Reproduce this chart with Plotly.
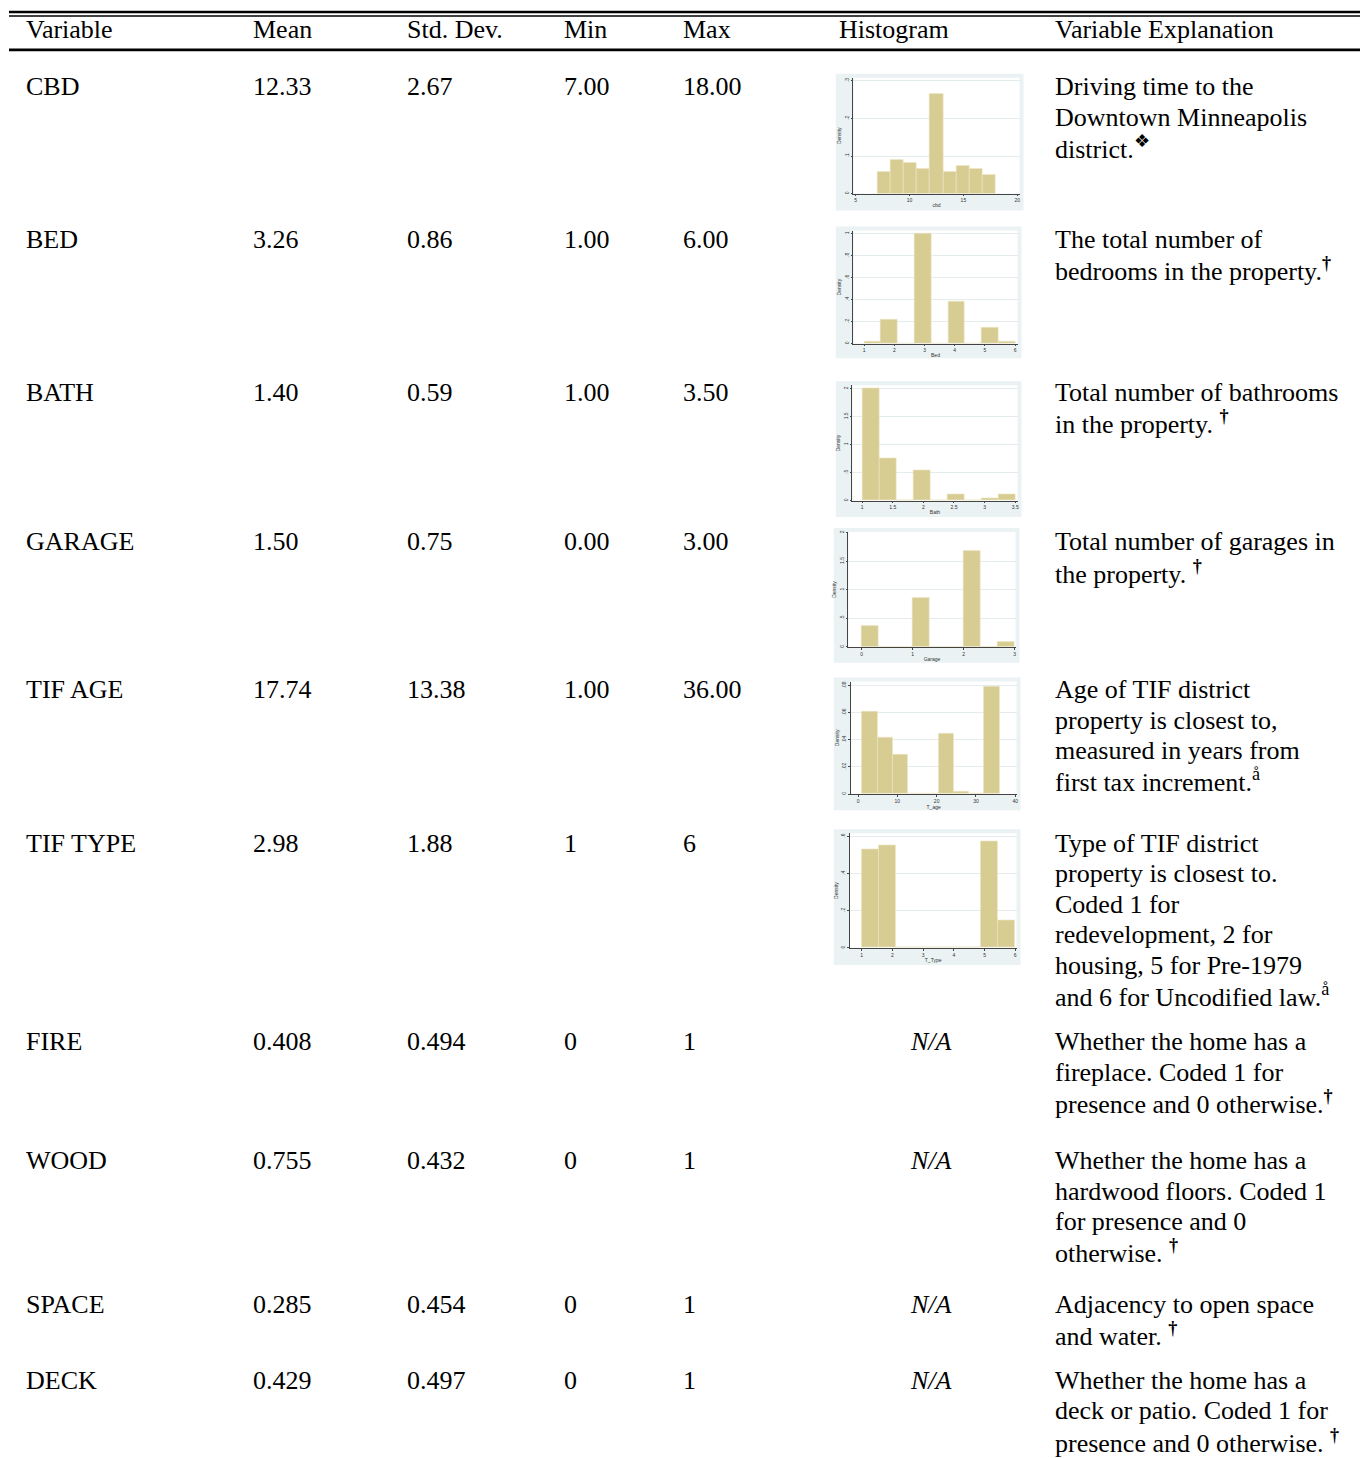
import numpy as np
import plotly.graph_objects as go

W, H = 1368, 1458

# ---------------- data ----------------
headers = ["Variable", "Mean", "Std. Dev.", "Min", "Max", "Histogram", "Variable Explanation"]
variables = ["CBD", "BED", "BATH", "GARAGE", "TIF AGE", "TIF TYPE", "FIRE", "WOOD", "SPACE", "DECK"]
means = ["12.33", "3.26", "1.40", "1.50", "17.74", "2.98", "0.408", "0.755", "0.285", "0.429"]
std_devs = ["2.67", "0.86", "0.59", "0.75", "13.38", "1.88", "0.494", "0.432", "0.454", "0.497"]
mins = ["7.00", "1.00", "1.00", "0.00", "1.00", "1", "0", "0", "0", "0"]
maxs = ["18.00", "6.00", "3.50", "3.00", "36.00", "6", "1", "1", "1", "1"]
DAG = "<sup><b>†</b></sup>"
explanations = [
    ["Driving time to the", "Downtown Minneapolis", "district.<sup>❖</sup>"],
    ["The total number of", "bedrooms in the property." + DAG],
    ["Total number of bathrooms", "in the property. " + DAG],
    ["Total number of garages in", "the property. " + DAG],
    ["Age of TIF district", "property is closest to,", "measured in years from", "first tax increment.<sup>å</sup>"],
    ["Type of TIF district", "property is closest to.", "Coded 1 for", "redevelopment, 2 for",
     "housing, 5 for Pre-1979", "and 6 for Uncodified law.<sup>å</sup>"],
    ["Whether the home has a", "fireplace. Coded 1 for", "presence and 0 otherwise." + DAG],
    ["Whether the home has a", "hardwood floors. Coded 1", "for presence and 0", "otherwise. " + DAG],
    ["Adjacency to open space", "and water. " + DAG],
    ["Whether the home has a", "deck or patio. Coded 1 for", "presence and 0 otherwise. " + DAG],
]

# histogram densities (9 equal bins between the variable's min and max)
cbd_density = [0.058, 0.091, 0.083, 0.066, 0.266, 0.058, 0.075, 0.066, 0.050]
bed_density = [0.021, 0.218, 0.0, 1.0, 0.0, 0.384, 0.0, 0.145, 0.021]
bath_density = [2.0, 0.766, 0.0, 0.552, 0.0, 0.107, 0.0, 0.036, 0.107]
garage_density = [0.366, 0.0, 0.0, 0.855, 0.0, 0.0, 1.674, 0.0, 0.093]
tifage_density = [0.0609, 0.042, 0.029, 0.0, 0.0, 0.0447, 0.002, 0.0, 0.0795]
tiftype_density = [0.532, 0.552, 0.0, 0.0, 0.0, 0.0, 0.0, 0.572, 0.147]

hist_ranges = [(7, 18), (1, 6), (1, 3.5), (0, 3), (1, 36), (1, 6)]
hist_xtitles = ["cbd", "Bed", "Bath", "Garage", "T_age", "T_Type"]
hist_xticks = [[5, 10, 15, 20], [1, 2, 3, 4, 5, 6], [1, 1.5, 2, 2.5, 3, 3.5],
               [0, 1, 2, 3], [0, 10, 20, 30, 40], [1, 2, 3, 4, 5, 6]]
hist_yticks = [[0, 0.1, 0.2, 0.3], [0, 0.2, 0.4, 0.6, 0.8, 1], [0, 0.5, 1, 1.5, 2],
               [0, 0.5, 1, 1.5, 2], [0, 0.02, 0.04, 0.06, 0.08], [0, 0.2, 0.4, 0.6]]
hist_ytick_text = [["0", ".1", ".2", ".3"], ["0", ".2", ".4", ".6", ".8", "1"],
                   ["0", ".5", "1", "1.5", "2"], ["0", ".5", "1", "1.5", "2"],
                   ["0", ".02", ".04", ".06", ".08"], ["0", ".2", ".4", ".6"]]
hist_densities = [cbd_density, bed_density, bath_density, garage_density, tifage_density, tiftype_density]

# ---------------- layout (pixel geometry, in screenshot pixels) ----------------
header_y = 30
row_y = [87, 240, 393, 543, 691, 845, 1044, 1163, 1307, 1383]
col_x = [26, 253, 408, 565, 684, 840, 1057]
na_x = 932
line_gap = 30.5

hist_geom = [
    dict(box=(836, 72, 1024, 209), left=853.7, xcal=(856.0, 1017.7), ycal=(192.0, 79.0)),
    dict(box=(836, 225, 1022, 357), left=853.7, xcal=(864.3, 1015.7), ycal=(342.3, 232.0)),
    dict(box=(836, 380, 1022, 516), left=852.7, xcal=(862.3, 1015.7), ycal=(499.7, 387.3)),
    dict(box=(834, 527, 1020, 662), left=848.7, xcal=(862.0, 1015.0), ycal=(646.3, 531.7)),
    dict(box=(834, 677, 1021, 810), left=851.0, xcal=(858.3, 1015.7), ycal=(793.7, 685.0)),
    dict(box=(834, 829, 1021, 965), left=850.0, xcal=(862.0, 1015.7), ycal=(947.7, 836.0)),
]

OFF_X, OFF_Y = 8, 8          # page margin around the figure
TEXT_DX, TEXT_DY = -1, -2    # small text placement correction
HIST_DX = 1

FONT = "Liberation Serif, Times New Roman, serif"
FS = 26
BAR_COLOR = "#D7CC92"
BG_COLOR = "#EAF2F3"


def px_x(x):
    return (x - OFF_X) / W


def px_y(y):
    return 1 - (y - OFF_Y) / H


fig = go.Figure()
annotations = []
shapes = []
layout_axes = {}


def add_text(x, y, text, anchor="left", italic=False):
    annotations.append(dict(
        x=px_x(x + TEXT_DX), y=px_y(y + TEXT_DY), xref="paper", yref="paper",
        text=f"<i>{text}</i>" if italic else text,
        showarrow=False, xanchor=anchor, yanchor="middle", borderpad=0,
        font=dict(family=FONT, size=FS, color="black"),
    ))


for cx, h in zip(col_x, headers):
    add_text(cx, header_y, h)

for i, var in enumerate(variables):
    y = row_y[i]
    for cx, val in zip(col_x[:5], [var, means[i], std_devs[i], mins[i], maxs[i]]):
        add_text(cx, y, val)
    if i >= len(hist_densities):
        add_text(na_x + 1, y, "N/A", anchor="center", italic=True)
    for j, line in enumerate(explanations[i]):
        add_text(col_x[6], y + j * line_gap, line)

# rules
for y, w in [(10, 2.6), (14, 1.4), (48, 2.6)]:
    shapes.append(dict(type="line", xref="paper", yref="paper",
                       x0=px_x(9), x1=1.02, y0=px_y(y), y1=px_y(y),
                       line=dict(color="black", width=w)))

# histograms
for k, dens in enumerate(hist_densities):
    g = hist_geom[k]
    x0b, y0b, x1b, y1b = g["box"]
    x0b += HIST_DX
    x1b += HIST_DX
    left = g["left"] + HIST_DX
    right = x1b - 4
    top = y0b + 4
    bottom = g["ycal"][0]

    shapes.append(dict(type="rect", xref="paper", yref="paper", layer="below",
                       x0=px_x(x0b), x1=px_x(x1b), y0=px_y(y1b), y1=px_y(y0b),
                       fillcolor=BG_COLOR, line=dict(width=0)))
    shapes.append(dict(type="rect", xref="paper", yref="paper", layer="below",
                       x0=px_x(left), x1=px_x(right), y0=px_y(bottom), y1=px_y(top),
                       fillcolor="white", line=dict(width=0)))

    lo, hi = hist_ranges[k]
    edges = np.linspace(lo, hi, len(dens) + 1)
    centers = (edges[:-1] + edges[1:]) / 2
    bw = edges[1] - edges[0]

    xt = hist_xticks[k]
    a, b = xt[0], xt[-1]
    pa, pb = g["xcal"]
    pa += HIST_DX
    pb += HIST_DX
    sx = (b - a) / (pb - pa)
    xr = [a + (left - pa) * sx, a + (right - pa) * sx]

    yt = hist_yticks[k]
    py0, pyt = g["ycal"]
    sy = yt[-1] / (py0 - pyt)
    yr = [0, (py0 - top) * sy]

    n = k + 1
    xa = "x" if n == 1 else f"x{n}"
    ya = "y" if n == 1 else f"y{n}"
    fig.add_trace(go.Bar(
        x=centers, y=dens, width=[bw] * len(dens),
        xaxis=xa, yaxis=ya, showlegend=False,
        marker=dict(color=BAR_COLOR, line=dict(color="#EDE6C4", width=0.6)),
        hoverinfo="skip",
    ))

    tickfont = dict(family="Arial, Liberation Sans, sans-serif", size=5, color="#333333")
    layout_axes["xaxis" if n == 1 else f"xaxis{n}"] = dict(
        domain=[px_x(left), px_x(right)], range=xr, anchor=ya,
        showline=True, linecolor="#444444", linewidth=0.6,
        ticks="outside", ticklen=2, tickwidth=0.5, tickcolor="#444444",
        tickvals=xt, ticktext=[f"{v:g}" for v in xt], tickfont=tickfont,
        showgrid=False, zeroline=False, fixedrange=True,
        title=dict(text=hist_xtitles[k], font=tickfont, standoff=1),
    )
    layout_axes["yaxis" if n == 1 else f"yaxis{n}"] = dict(
        domain=[px_y(bottom), px_y(top)], range=yr, anchor=xa,
        showline=True, linecolor="#444444", linewidth=0.6,
        ticks="outside", ticklen=2, tickwidth=0.5, tickcolor="#444444",
        tickvals=yt, ticktext=hist_ytick_text[k], tickfont=tickfont, tickangle=-90,
        showgrid=True, gridcolor="#E4ECED", gridwidth=0.5,
        zeroline=False, fixedrange=True,
        title=dict(text="Density", font=tickfont, standoff=1),
    )

fig.update_layout(
    width=W, height=H,
    margin=dict(l=0, r=0, t=0, b=0),
    paper_bgcolor="white", plot_bgcolor="rgba(0,0,0,0)",
    bargap=0, showlegend=False,
    annotations=annotations, shapes=shapes,
    **layout_axes,
)

fig.write_html("out.html")
